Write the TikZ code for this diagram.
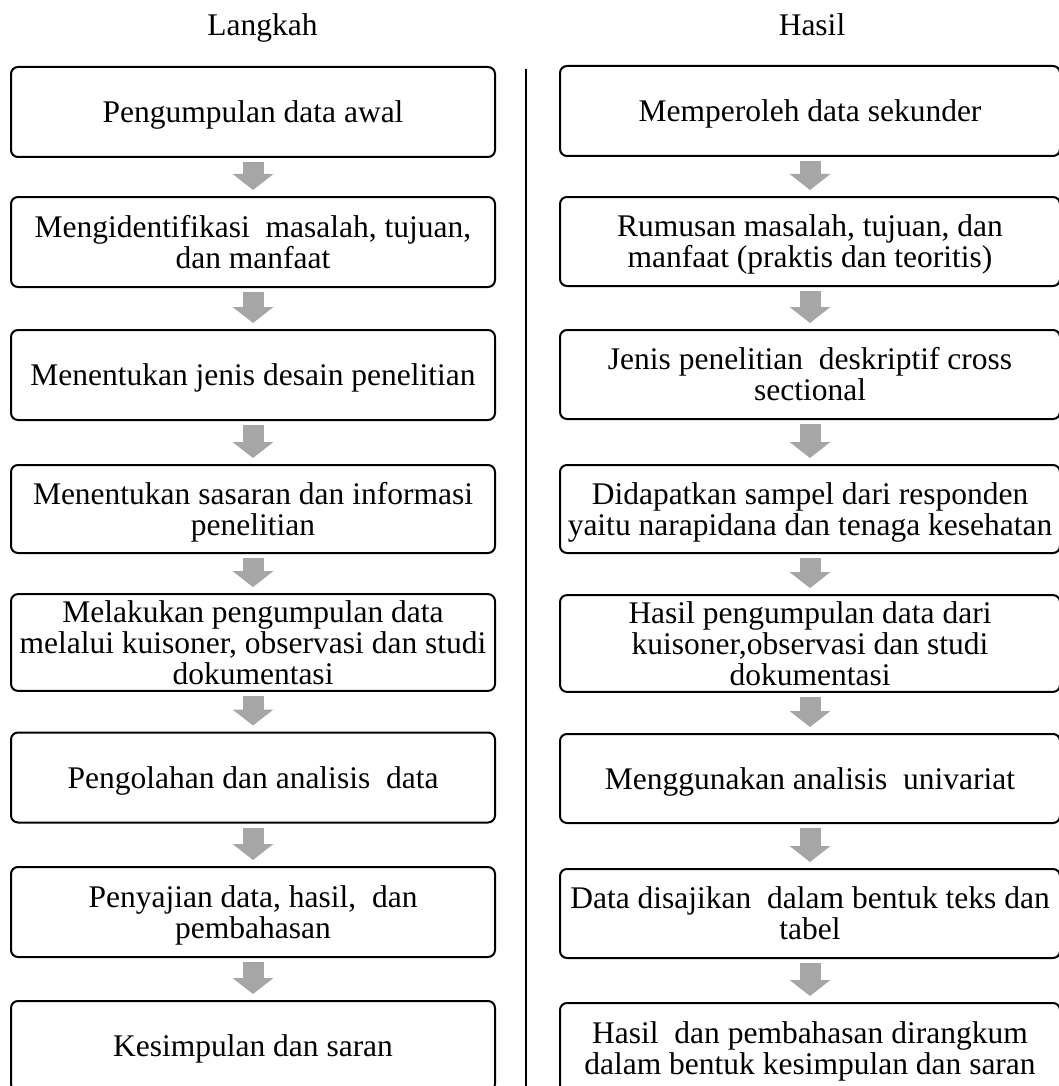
\documentclass[tikz,border=0pt]{standalone}
\usepackage{fontspec}
\setmainfont{Liberation Serif}
\usetikzlibrary{arrows.meta}
\definecolor{arrowgray}{HTML}{A6A6A6}
\newcommand\bxt[1]{\rule{0pt}{28pt}#1\rule[-6.8pt]{0pt}{6.8pt}}
\tikzset{
  stepbox/.style={draw=black, line width=2pt, rounded corners=7pt, align=center,
    inner sep=0pt, font=\fontsize{31.5}{31}\selectfont},
  leftbox/.style={stepbox, minimum width=484pt},
  rightbox/.style={stepbox, minimum width=500pt},
  title/.style={anchor=base, inner sep=0pt, font=\fontsize{31.5}{31}\selectfont},
  blockarrow/.style={draw=arrowgray, line width=21pt,
    -{Triangle[width=40pt,length=16pt]}, shorten <=4pt, shorten >=6pt}
}
\begin{document}
\begin{tikzpicture}[x=1pt,y=-1pt]
\useasboundingbox (0,0) rectangle (1059,1086);
\node[title] (tl) at (262.5,36) {Langkah};
\node[title] (tr) at (812,36) {Hasil};
\coordinate (vtop) at (526,69);
\coordinate (vbot) at (526,1086);
\draw[line width=1.3pt] (vtop) -- (vbot);
% left column
\node[leftbox, minimum height=90pt] (L1) at (253,112) {\bxt{Pengumpulan data awal}};
\node[leftbox, minimum height=90pt] (L2) at (253,242) {\bxt{Mengidentifikasi\ \ masalah, tujuan,\\dan manfaat}};
\node[leftbox, minimum height=90pt] (L3) at (253,375) {\bxt{Menentukan jenis desain penelitian}};
\node[leftbox, minimum height=88pt] (L4) at (253,509) {\bxt{Menentukan sasaran dan informasi\\penelitian}};
\node[leftbox, minimum height=89pt] (L5) at (253,642.5) {\bxt{Melakukan pengumpulan data\\melalui kuisoner, observasi dan studi\\dokumentasi}};
\node[leftbox, minimum height=90pt] (L6) at (253,777.5) {\bxt{Pengolahan dan analisis\ \ data}};
\node[leftbox, minimum height=90pt] (L7) at (253,912) {\bxt{Penyajian data, hasil,\ \ dan\\pembahasan}};
\node[leftbox, minimum height=90pt] (L8) at (253,1046) {\bxt{Kesimpulan dan saran}};
% right column
\node[rightbox, minimum height=90pt] (R1) at (810,111) {\bxt{Memperoleh data sekunder}};
\node[rightbox, minimum height=89pt] (R2) at (810,241.5) {\bxt{Rumusan masalah, tujuan, dan\\manfaat (praktis dan teoritis)}};
\node[rightbox, minimum height=89pt] (R3) at (810,374.5) {\bxt{Jenis penelitian\ \ deskriptif cross\\sectional}};
\node[rightbox, minimum height=88pt] (R4) at (810,509) {\bxt{Didapatkan sampel dari responden\\yaitu narapidana dan tenaga kesehatan}};
\node[rightbox, minimum height=89pt] (R5) at (810,643.5) {\bxt{Hasil pengumpulan data dari\\kuisoner,observasi dan studi\\dokumentasi}};
\node[rightbox, minimum height=89pt] (R6) at (810,778.5) {\bxt{Menggunakan analisis\ \ univariat}};
\node[rightbox, minimum height=89pt] (R7) at (810,913.5) {\bxt{Data disajikan\ \ dalam bentuk teks dan\\tabel}};
\node[rightbox, minimum height=90pt] (R8) at (810,1048) {\bxt{Hasil\ \ dan pembahasan dirangkum\\dalam bentuk kesimpulan dan saran}};
% arrows
\foreach \a/\b in {L1/L2,L2/L3,L3/L4,L4/L5,L5/L6,L6/L7,L7/L8,R1/R2,R2/R3,R3/R4,R4/R5,R5/R6,R6/R7,R7/R8}
  \draw[blockarrow] (\a.south) -- (\b.north);
\end{tikzpicture}
\end{document}
